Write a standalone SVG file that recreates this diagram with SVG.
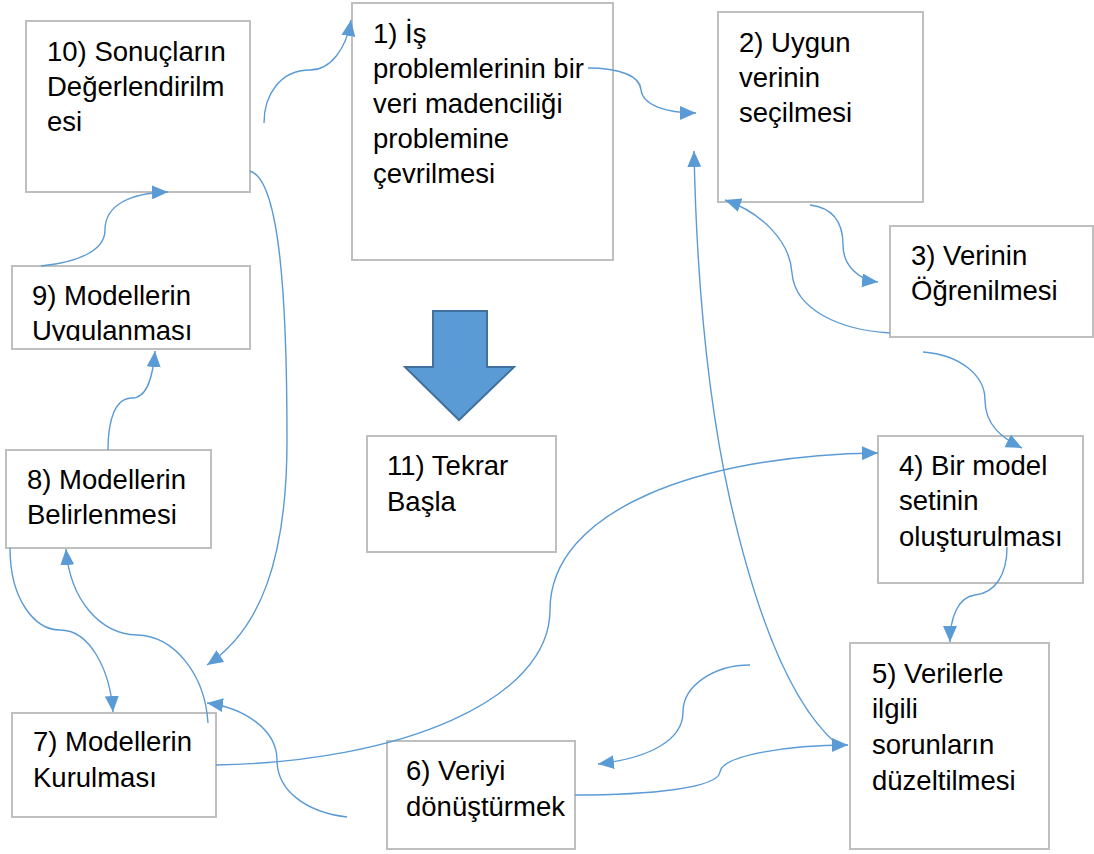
<svg xmlns="http://www.w3.org/2000/svg" width="1094" height="854" viewBox="0 0 1094 854">
  <style>
    .box { fill: #ffffff; stroke: #BFBFBF; stroke-width: 2; }
    .lbl { font-family: "Liberation Sans", Arial, sans-serif; font-size: 27.5px; fill: #000000; }
    .link { fill: none; stroke: #5B9BD5; stroke-width: 1.4; marker-end: url(#tip); }
  </style>
  <defs>
    <marker id="tip" markerUnits="userSpaceOnUse" markerWidth="17" markerHeight="14" refX="16" refY="7" orient="auto">
      <path d="M0,0 L16,7 L0,14 z" fill="#5B9BD5"/>
    </marker>
    <clipPath id="clip9">
      <rect x="12" y="266" width="238" height="75"/>
    </clipPath>
  </defs>
  <rect width="1094" height="854" fill="#ffffff"/>

  <g id="node10">
    <rect class="box" x="26" y="21" width="224" height="171"/>
    <text class="lbl" x="47" y="61">10) Sonuçların</text>
    <text class="lbl" x="47" y="96">Değerlendirilm</text>
    <text class="lbl" x="47" y="131">esi</text>
  </g>

  <g id="node1">
    <rect class="box" x="352" y="3" width="261" height="257"/>
    <text class="lbl" x="373" y="43">1) İş</text>
    <text class="lbl" x="373" y="78">problemlerinin bir</text>
    <text class="lbl" x="373" y="113">veri madenciliği</text>
    <text class="lbl" x="373" y="148">problemine</text>
    <text class="lbl" x="373" y="183">çevrilmesi</text>
  </g>

  <g id="node2">
    <rect class="box" x="718" y="12" width="205" height="190"/>
    <text class="lbl" x="739" y="52">2) Uygun</text>
    <text class="lbl" x="739" y="87">verinin</text>
    <text class="lbl" x="739" y="122">seçilmesi</text>
  </g>

  <g id="node3">
    <rect class="box" x="890" y="226" width="203" height="111"/>
    <text class="lbl" x="911" y="265">3) Verinin</text>
    <text class="lbl" x="911" y="300">Öğrenilmesi</text>
  </g>

  <g id="node4">
    <rect class="box" x="878" y="436" width="205" height="147"/>
    <text class="lbl" x="899" y="475">4) Bir model</text>
    <text class="lbl" x="899" y="510">setinin</text>
    <text class="lbl" x="899" y="546">oluşturulması</text>
  </g>

  <g id="node5">
    <rect class="box" x="850" y="643" width="199" height="206"/>
    <text class="lbl" x="872" y="683">5) Verilerle</text>
    <text class="lbl" x="872" y="718">ilgili</text>
    <text class="lbl" x="872" y="754">sorunların</text>
    <text class="lbl" x="872" y="790">düzeltilmesi</text>
  </g>

  <g id="node6">
    <rect class="box" x="387" y="741" width="188" height="108"/>
    <text class="lbl" x="406" y="780">6) Veriyi</text>
    <text class="lbl" x="406" y="816">dönüştürmek</text>
  </g>

  <g id="node7">
    <rect class="box" x="12" y="713" width="204" height="104"/>
    <text class="lbl" x="33" y="751">7) Modellerin</text>
    <text class="lbl" x="33" y="787">Kurulması</text>
  </g>

  <g id="node8">
    <rect class="box" x="6" y="450" width="205" height="98"/>
    <text class="lbl" x="27" y="489">8) Modellerin</text>
    <text class="lbl" x="27" y="524">Belirlenmesi</text>
  </g>

  <g id="node9">
    <rect class="box" x="12" y="266" width="238" height="83"/>
    <g clip-path="url(#clip9)">
      <text class="lbl" x="32" y="305">9) Modellerin</text>
      <text class="lbl" x="32" y="340">Uygulanması</text>
    </g>
  </g>

  <g id="node11">
    <rect class="box" x="367" y="436" width="189" height="116"/>
    <text class="lbl" x="387" y="475">11) Tekrar</text>
    <text class="lbl" x="387" y="511">Başla</text>
  </g>

  <g id="restart-arrow">
    <polygon points="433,311 487,311 487,367 514,367 459,420 405,367 433,367" fill="#5B9BD5" stroke="#41719C" stroke-width="2" stroke-linejoin="miter"/>
  </g>

  <g id="connectors">
    <!-- 10 -> 1 -->
    <path class="link" d="M264,123 C264,95 280,70 310,70 C330,70 346,50 351,20"/>
    <!-- 1 -> 2 -->
    <path class="link" d="M588,68 C620,68 640,76 641,90 C643,105 665,113 696,113"/>
    <!-- 2 -> 3 -->
    <path class="link" d="M810,205 C835,208 843,225 843,245 C843,265 858,280 878,282"/>
    <!-- 3 -> 2 -->
    <path class="link" d="M890,333 C840,330 795,310 792,273 C790,240 760,212 725,200"/>
    <!-- 3 -> 4 -->
    <path class="link" d="M923,352 C960,355 985,375 985,400 C985,425 1002,438 1022,448"/>
    <!-- 4 -> 5 -->
    <path class="link" d="M1007,547 C1007,575 995,593 975,595 C958,597 950,618 950,642"/>
    <!-- 7 -> 4 -->
    <path class="link" d="M216,765 C400,762 550,700 550,610 C550,510 700,455 878,453"/>
    <!-- 6 -> 5 -->
    <path class="link" d="M575,795 C650,795 718,788 720,772 C722,755 790,745 848,745"/>
    <!-- 5 -> 6 -->
    <path class="link" d="M750,665 C715,665 683,685 683,712 C683,740 650,758 598,764"/>
    <!-- 5 -> 2 -->
    <path class="link" d="M838,745 C790,705 755,610 730,500 C710,410 697,300 694,151"/>
    <!-- 6 -> 7 -->
    <path class="link" d="M347,817 C305,812 277,790 277,760 C277,730 245,708 207,703"/>
    <!-- 7 -> 8 -->
    <path class="link" d="M208,723 C205,675 175,636 137,635 C100,634 70,600 66,549"/>
    <!-- 8 -> 7 -->
    <path class="link" d="M10,548 C10,600 35,630 60,630 C90,630 110,670 113,712"/>
    <!-- 10 -> 7 -->
    <path class="link" d="M250,171 C280,180 287,300 287,440 C287,560 260,630 207,665"/>
    <!-- 8 -> 9 -->
    <path class="link" d="M108,450 C108,420 115,398 132,398 C148,398 153,375 155,351"/>
    <!-- 9 -> 10 -->
    <path class="link" d="M41,266 C80,262 105,250 105,230 C105,205 130,193 168,192"/>
  </g>
</svg>
